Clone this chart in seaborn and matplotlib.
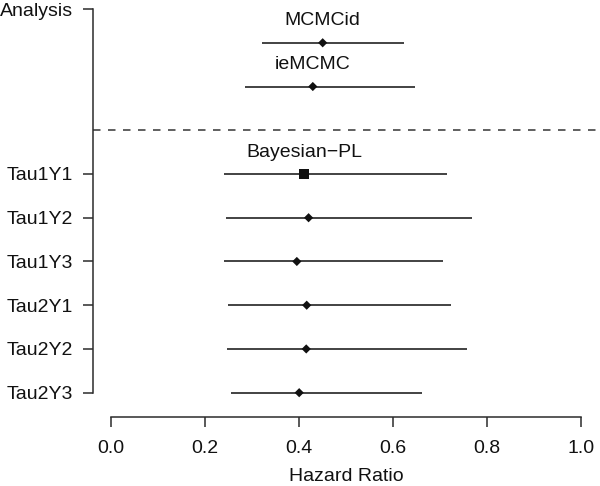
import seaborn as sns
import matplotlib
matplotlib.use('Agg')
import matplotlib.pyplot as plt
import numpy as np
import pandas as pd

# hazard ratios with 95% intervals
analysis = ['MCMCid', 'ieMCMC', 'Tau1Y1', 'Tau1Y2', 'Tau1Y3', 'Tau2Y1', 'Tau2Y2', 'Tau2Y3']
method = ['MCMCid', 'ieMCMC', 'Bayesian\u2212PL', '', '', '', '', '']
hazard = [0.451, 0.430, 0.411, 0.421, 0.396, 0.417, 0.416, 0.401]
lower = [0.321, 0.286, 0.240, 0.246, 0.242, 0.250, 0.248, 0.256]
upper = [0.623, 0.648, 0.716, 0.769, 0.706, 0.723, 0.757, 0.663]
marker_kind = ['est', 'est', 'pl', 'est', 'est', 'est', 'est', 'est']
xticks = [0.0, 0.2, 0.4, 0.6, 0.8, 1.0]

ypos = [9, 8, 6, 5, 4, 3, 2, 1]
df = pd.DataFrame({'analysis': analysis, 'hr': hazard, 'lo': lower, 'hi': upper,
                   'kind': marker_kind, 'y': ypos})

sns.set_style('ticks')
plt.rcParams['font.family'] = ['Liberation Sans', 'DejaVu Sans']
ink = '#2b2b2b'

fig = plt.figure(figsize=(6, 4.86), dpi=100)
ax = fig.add_axes([0.1545, 0.1426, 0.8455, 0.8574])

# confidence intervals
ax.hlines(df['y'], df['lo'], df['hi'], color=ink, linewidth=1.25, zorder=2)

# point estimates
sns.scatterplot(data=df, x='hr', y='y', style='kind', markers={'est': 'D', 'pl': 's'},
                size='kind', sizes={'est': 22, 'pl': 45}, color='#111111',
                edgecolor='none', legend=False, ax=ax, zorder=3)

# method labels over the first row of each block
for lab, x, y in zip(method, hazard, ypos):
    if lab:
        ax.text(x, y + 0.5, lab, ha='center', va='center', fontsize=14, color='#111111')

# separator between the alternative methods and the Tau analyses
ax.axhline(7, color='#444444', linewidth=1.2, linestyle=(0, (4.5, 4.5)), zorder=1, clip_on=False)

ax.set_xlim(-0.0383, 1.041)
ax.set_ylim(0.451, 9.978)
ax.set_xticks(xticks)
ax.set_xticklabels(['%.1f' % t for t in xticks])
ax.set_yticks([9.77] + ypos[2:])
ax.set_yticklabels(['Analysis'] + analysis[2:])

ax.spines['top'].set_visible(False)
ax.spines['right'].set_visible(False)
ax.spines['bottom'].set_bounds(0, 1)
ax.spines['left'].set_bounds(1, 9.77)
for s in ['bottom', 'left']:
    ax.spines[s].set_color(ink)
    ax.spines[s].set_linewidth(1.1)

ax.tick_params(axis='both', labelsize=14, colors='#111111', length=7, width=1.1)
ax.tick_params(axis='x', pad=10, color=ink)
ax.tick_params(axis='y', pad=7, color=ink)
ax.set_xlabel('Hazard Ratio', fontsize=14, labelpad=8, color='#111111')
ax.set_ylabel('')

fig.savefig('out.png', dpi=100)
